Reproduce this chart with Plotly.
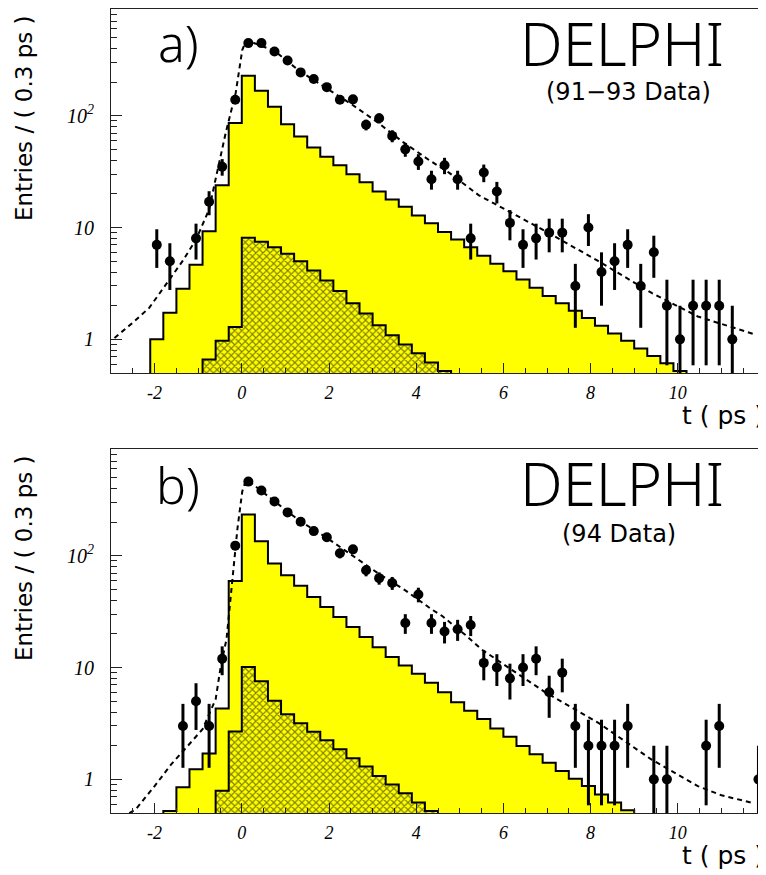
import numpy as np
import plotly.graph_objects as go

BIN_W = 0.3

# ---------------- panel a) (91-93 data) ----------------
a_t = [-1.95, -1.65, -1.05, -0.75, -0.45, -0.15, 0.15, 0.45, 0.75, 1.05, 1.35, 1.65, 1.95,
       2.25, 2.55, 2.85, 3.15, 3.45, 3.75, 4.05, 4.35, 4.65, 4.95, 5.25, 5.55, 5.85,
       6.15, 6.45, 6.75, 7.05, 7.35, 7.65, 7.95, 8.25, 8.55, 8.85, 9.15, 9.45, 9.75,
       10.05, 10.35, 10.65, 10.95, 11.25]
a_n = [7, 5, 8, 17, 35, 139, 446, 446, 375, 312, 244, 213, 180,
       139, 140, 83, 95, 66, 50, 39, 27, 36, 27, 8, 31, 21,
       11, 7, 8, 9, 9, 3, 10, 4, 5, 7, 3, 6, 2,
       1, 2, 2, 2, 1]

a_main_start = -2.1
a_main = [1.0, 1.73, 2.84, 4.64, 9.27, 23.9, 86, 228, 167, 120, 84, 65, 52, 43, 36, 30,
          25.4, 21, 17.8, 15.3, 12.8, 10.9, 9.1, 7.8, 6.67, 5.6, 4.74, 4.07, 3.43, 2.89,
          2.44, 2.1, 1.8, 1.55, 1.32, 1.13, 0.97, 0.83, 0.71, 0.61, 0.52]
a_hatch_start = -0.9
a_hatch = [0.66, 0.97, 1.29, 8.1, 7.45, 6.67, 5.82, 5.0, 4.13, 3.36, 2.7, 2.1, 1.7, 1.34,
           1.09, 0.9, 0.75, 0.62, 0.52]

a_fit_t = [-2.92, -2.5, -2.12, -1.66, -1.36, -1.05, -0.75, -0.63, -0.37, -0.14, 0.01, 0.09,
           0.13, 0.75, 1.3, 1.9, 2.5, 3.1, 3.7, 4.3, 4.75, 5.43, 6.12, 6.96, 8.18, 9.4,
           10.46, 11.76]
a_fit_v = [1.03, 1.41, 1.92, 3.43, 5.0, 7.8, 14.5, 24, 70, 160, 386, 462,
           470, 380, 255, 180, 128, 88, 58, 40, 31, 19.5, 14, 9.3, 5.0, 2.6,
           1.6, 1.11]

# ---------------- panel b) (94 data) ----------------
b_t = [-1.35, -1.05, -0.75, -0.45, -0.15, 0.15, 0.45, 0.75, 1.05, 1.35, 1.65, 1.95, 2.25,
       2.55, 2.85, 3.15, 3.45, 3.75, 4.05, 4.35, 4.65, 4.95, 5.25, 5.55, 5.85, 6.15,
       6.45, 6.75, 7.05, 7.35, 7.65, 7.95, 8.25, 8.55, 8.85, 9.45, 9.75, 10.65, 10.95,
       11.85]
b_n = [3, 5, 3, 12, 123, 460, 383, 305, 244, 201, 166, 146, 105,
       114, 74, 63, 57, 25, 45, 25, 21, 22, 24, 11, 10, 8,
       10, 12, 6, 9, 3, 2, 2, 2, 3, 1, 1, 2, 3,
       1]

b_main_start = -1.8
b_main = [0.52, 0.85, 1.23, 1.7, 4.3, 59.5, 234, 135, 85, 67, 54, 42.8, 34.8, 28.3, 23,
          18.7, 15.2, 12.4, 10.4, 8.8, 7.3, 6.0, 4.88, 4.1, 3.46, 2.85, 2.4, 1.99, 1.68,
          1.41, 1.19, 1.01, 0.87, 0.73, 0.62, 0.53]
b_hatch_start = -0.6
b_hatch = [0.79, 2.68, 10.1, 7.53, 5.05, 3.83, 3.18, 2.66, 2.24, 1.86, 1.54, 1.3, 1.07,
           0.9, 0.75, 0.62, 0.52]

b_fit_t = [-2.58, -2.43, -2.0, -1.62, -1.24, -0.9, -0.6, -0.48, -0.35, -0.21, -0.1, 0.01,
           0.09, 0.13, 0.72, 1.31, 1.92, 2.53, 3.14, 3.75, 4.36, 4.59, 5.13, 5.5, 6.0,
           6.96, 8.18, 9.4, 10.46, 11.0, 11.68]
b_fit_v = [0.5, 0.54, 0.87, 1.36, 1.99, 2.81, 5.2, 10.4, 18, 62.6, 175, 375,
           466, 475, 315, 207, 147, 101, 69, 49, 33, 29, 19.5, 14.5, 10.7,
           6.0, 3.2, 1.5, 0.87, 0.72, 0.62]

X_TICKS = [-2, 0, 2, 4, 6, 8, 10]
X_TICK_TEXT = ["-2", "0", "2", "4", "6", "8", "10"]
Y_TICKS = [1, 10, 100]
Y_TICK_TEXT = ["1", "10", "10<sup>2</sup>"]

# ---------------- layout geometry ----------------
# the page body adds an 8px offset, so the figure is laid out in screen px minus 8
OFF = 8
W, H = 766, 875
PL, PR, PT, PB = 111, 765, 9, 813          # plot frame in screen pixels
ML, MR, MT, MB = PL - OFF, W - (PR - OFF), PT - OFF, H - (PB - OFF)
PW, PH = W - ML - MR, H - MT - MB


def px_x(px):
    return (px - PL) / PW


def px_y(py):
    return (PB - py) / PH


def hist_polygon(start, vals, base=0.05):
    edges = start + BIN_W * np.arange(len(vals) + 1)
    xs, ys = [edges[0]], [base]
    for i, v in enumerate(vals):
        xs += [edges[i], edges[i + 1]]
        ys += [v, v]
    xs.append(edges[-1])
    ys.append(base)
    return xs, ys


fig = go.Figure()


def add_panel(xa, ya, main_start, main, hatch_start, hatch, fit_t, fit_v, t, n):
    xs, ys = hist_polygon(main_start, main)
    fig.add_trace(go.Scatter(x=xs, y=ys, mode="lines", fill="toself",
                             fillcolor="#ffff00", line=dict(color="black", width=2),
                             xaxis=xa, yaxis=ya, hoverinfo="skip", showlegend=False))
    xs, ys = hist_polygon(hatch_start, hatch)
    fig.add_trace(go.Scatter(x=xs, y=ys, mode="lines", fill="toself",
                             fillcolor="#ffff00",
                             fillpattern=dict(shape="x", fgcolor="black", bgcolor="#ffff00",
                                              size=5, solidity=0.4),
                             line=dict(color="black", width=2),
                             xaxis=xa, yaxis=ya, hoverinfo="skip", showlegend=False))
    fig.add_trace(go.Scatter(x=fit_t, y=fit_v, mode="lines",
                             line=dict(color="black", width=2, dash="5px,4px"),
                             xaxis=xa, yaxis=ya, showlegend=False))
    n_arr = np.array(n, dtype=float)
    err = np.sqrt(n_arr)
    err_minus = np.minimum(err, n_arr * 0.999)
    fig.add_trace(go.Scatter(x=t, y=n, mode="markers",
                             marker=dict(color="black", size=10, symbol="circle"),
                             error_y=dict(type="data", array=err, arrayminus=err_minus,
                                          symmetric=False, color="black", thickness=3,
                                          width=0),
                             xaxis=xa, yaxis=ya, showlegend=False))


add_panel("x", "y", a_main_start, a_main, a_hatch_start, a_hatch, a_fit_t, a_fit_v, a_t, a_n)
add_panel("x2", "y2", b_main_start, b_main, b_hatch_start, b_hatch, b_fit_t, b_fit_v, b_t, b_n)

tickfont = dict(family="Liberation Serif", size=18, color="black", style="italic")
x_minor = [v for v in np.arange(-3, 12.01, 0.5) if abs(v - round(v / 2) * 2) > 1e-6]
y_minor = [m * d for d in (0.1, 1, 10, 100) for m in range(2, 10) if 0.5 <= m * d <= 900]

xcommon = dict(range=[-3, 12], showline=True, linecolor="#222", linewidth=1, mirror=True,
               tickmode="array", tickvals=X_TICKS, ticktext=X_TICK_TEXT,
               ticks="inside", ticklen=10, tickwidth=1, tickcolor="#222",
               minor=dict(tickmode="array", tickvals=x_minor, ticks="inside", ticklen=5,
                          tickwidth=1, tickcolor="#222"),
               tickfont=tickfont, ticklabelstandoff=3, showgrid=False, zeroline=False,
               automargin=False)
ycommon = dict(type="log", range=[np.log10(0.5), np.log10(900)], showline=True,
               linecolor="#222", linewidth=1, mirror=True,
               tickmode="array", tickvals=Y_TICKS, ticktext=Y_TICK_TEXT,
               ticks="inside", ticklen=11, tickwidth=1, tickcolor="#222",
               minor=dict(tickmode="array", tickvals=y_minor, ticks="inside", ticklen=6,
                          tickwidth=1, tickcolor="#222"),
               tickfont=dict(family="Liberation Serif", size=20, color="black",
                             style="italic"),
               ticklabelstandoff=12, showgrid=False, zeroline=False, automargin=False)

fig.update_layout(
    width=W, height=H, margin=dict(l=ML, r=MR, t=MT, b=MB),
    paper_bgcolor="white", plot_bgcolor="white",
    xaxis=dict(xcommon, anchor="y", domain=[0, 1]),
    yaxis=dict(ycommon, anchor="x", domain=[px_y(373), 1]),
    xaxis2=dict(xcommon, anchor="y2", domain=[0, 1]),
    yaxis2=dict(ycommon, anchor="x2", domain=[0, px_y(449)]),
)

light = "Noto Sans, DejaVu Sans, sans-serif"
annots = [
    dict(text="a)", x=178, y=43, size=50, fam=light, w=300),
    dict(text="b)", x=178, y=485, size=50, fam=light, w=300),
    dict(text="DELPHI", x=622, y=43, size=60, fam=light, w=300),
    dict(text="DELPHI", x=622, y=483, size=60, fam=light, w=300),
    dict(text="(91\u221293 Data)", x=628, y=92, size=24, fam="DejaVu Sans", w=400),
    dict(text="(94 Data)", x=619, y=534, size=24, fam="DejaVu Sans", w=400),
]
for a in annots:
    fig.add_annotation(text=a["text"], x=px_x(a["x"]), y=px_y(a["y"]), xref="paper",
                       yref="paper", xanchor="center", yanchor="middle", showarrow=False,
                       borderpad=0,
                       font=dict(family=a["fam"], size=a["size"], color="black",
                                 weight=a["w"]))

for yy in (415, 855):
    fig.add_annotation(text="t ( ps )", x=px_x(765), y=px_y(yy), xref="paper", yref="paper",
                       xanchor="right", yanchor="middle", showarrow=False, borderpad=0,
                       font=dict(family="DejaVu Sans", size=25, color="black"))
for yy in (118, 558):
    fig.add_annotation(text="Entries / ( 0.3 ps )", x=px_x(24), y=px_y(yy), xref="paper",
                       yref="paper", xanchor="center", yanchor="middle", showarrow=False,
                       textangle=-90,
                       font=dict(family="DejaVu Sans", size=23, color="black"))

fig.write_html("out.html")
